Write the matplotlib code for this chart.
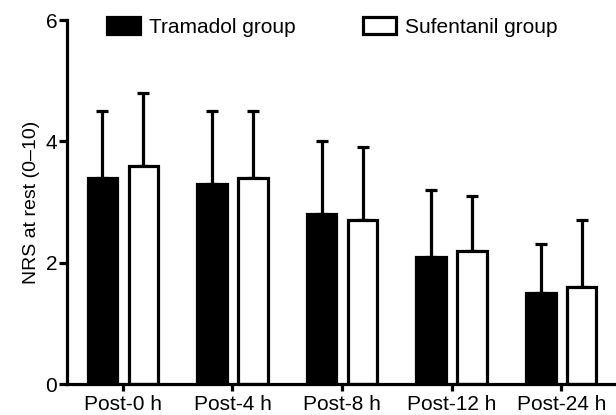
import numpy as np
import matplotlib
matplotlib.use("Agg")
import matplotlib.pyplot as plt
from matplotlib.patches import Patch

plt.rcParams["font.family"] = ["Liberation Sans", "DejaVu Sans"]

categories = ["Post-0 h", "Post-4 h", "Post-8 h", "Post-12 h", "Post-24 h"]
tramadol = [3.4, 3.3, 2.8, 2.1, 1.5]
tramadol_sd = [1.1, 1.2, 1.2, 1.1, 0.8]
sufentanil = [3.6, 3.4, 2.7, 2.2, 1.6]
sufentanil_sd = [1.2, 1.1, 1.2, 0.9, 1.1]

fig = plt.figure(figsize=(6.16, 4.15), dpi=100)
ax = fig.add_axes([67 / 616, 1 - 384 / 415, 1 - 67 / 616, (384 - 20) / 415])

x = np.arange(len(categories))
w = 0.27
off = 0.187
lw = 2.3

ax.errorbar(x - off, tramadol, yerr=[np.zeros(5), tramadol_sd], fmt="none",
            ecolor="black", elinewidth=lw, capsize=4.5, capthick=lw, zorder=1)
ax.errorbar(x + off, sufentanil, yerr=[np.zeros(5), sufentanil_sd], fmt="none",
            ecolor="black", elinewidth=lw, capsize=4.5, capthick=lw, zorder=1)
ax.bar(x - off, tramadol, w, color="black", edgecolor="black", linewidth=lw, zorder=2)
ax.bar(x + off, sufentanil, w, color="white", edgecolor="black", linewidth=lw, zorder=2)

ax.set_xlim(-0.51, 4.5)
ax.set_ylim(0, 6)
ax.set_yticks([0, 2, 4, 6])
ax.set_xticks(x)
ax.set_xticklabels(categories, fontsize=15)
ax.tick_params(axis="y", labelsize=15, length=6, width=lw, pad=1)
ax.tick_params(axis="x", length=5, width=lw, pad=3)
ax.set_ylabel("NRS at rest (0\u201310)", fontsize=14, labelpad=4)

for s in ["top", "right"]:
    ax.spines[s].set_visible(False)
for s in ["left", "bottom"]:
    ax.spines[s].set_linewidth(lw)
ax.spines["left"].set_zorder(3)

handles = [Patch(facecolor="black", edgecolor="black", linewidth=lw, label="Tramadol group"),
           Patch(facecolor="white", edgecolor="black", linewidth=lw, label="Sufentanil group")]
fig.legend(handles=handles, ncol=2, frameon=False, fontsize=15,
           loc="upper left", bbox_to_anchor=(107 / 616, 1 - 17 / 415),
           borderpad=0, borderaxespad=0, handlelength=1.6, handleheight=0.9,
           handletextpad=0.4, columnspacing=3.25)

fig.savefig("out.png", dpi=100)
